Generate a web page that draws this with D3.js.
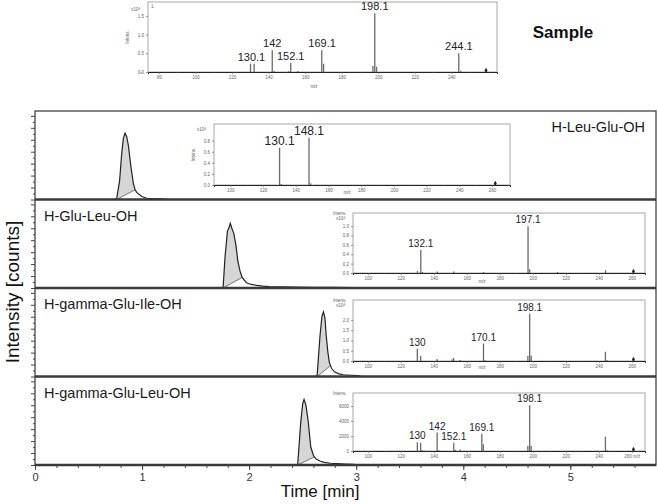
<!DOCTYPE html>
<html>
<head>
<meta charset="utf-8">
<script src="https://cdn.jsdelivr.net/npm/d3@7"></script>
<style>
  body { margin: 0; background: #fff; }
  svg { display: block; font-family: Arial, "Liberation Sans", sans-serif; }
</style>
</head>
<body>
<div id="chart"></div>
<script>
// ---------- data ----------
const timeTicks = [0, 1, 2, 3, 4, 5];
const compounds = ["H-Leu-Glu-OH", "H-Glu-Leu-OH", "H-gamma-Glu-Ile-OH", "H-gamma-Glu-Leu-OH"];

// chromatograms: [time (min), intensity (% of panel height)]
const traceLeuGlu = [[0,0],[0.74,0],[0.763,1],[0.79,21],[0.81,52],[0.825,69],[0.841,75],[0.857,71],[0.872,61],
  [0.897,36],[0.919,18],[0.935,11],[0.95,8],[0.997,3.4],[1.044,1.4],[1.1,1],[1.15,0.8],[1.2,0.6],[1.25,0],[5.8,0]];
const traceGluLeu = [[0,0],[1.74,0],[1.757,1],[1.775,35],[1.797,64],[1.812,68],[1.824,73],[1.84,67],[1.856,62],
  [1.876,49],[1.895,30],[1.915,19],[1.935,12],[1.974,6],[2.02,4],[2.07,3],[2.13,2.2],[2.19,1.6],[2.3,1.2],
  [2.45,1],[2.6,0.8],[2.8,0.6],[2.95,0.5],[3.0,0],[5.8,0]];
const traceGGluIle = [[0,0],[2.62,0],[2.635,1],[2.662,46],[2.68,68],[2.694,73],[2.708,66],[2.72,46],[2.735,28],
  [2.749,16],[2.77,9],[2.8,5],[2.84,3],[2.878,2],[2.95,1.4],[3.016,1],[3.05,0],[5.8,0]];
const traceGGluLeu = [[0,0],[2.44,0],[2.454,1],[2.481,47],[2.5,69],[2.513,74],[2.53,68],[2.551,50],[2.576,20],
  [2.6,11],[2.623,7],[2.66,4.5],[2.701,3],[2.76,2],[2.82,1.5],[2.9,1],[2.98,0.6],[3.02,0],[5.8,0]];
const traces = [traceLeuGlu, traceGluLeu, traceGGluIle, traceGGluLeu];
// integration window of each peak (min)
const peakStart = [0.763, 1.757, 2.635, 2.454];
const peakEnd = [0.935, 1.935, 2.76, 2.61];

// mass spectra: [m/z, intensity]
const sampleSpectrum = [[130.1,0.22],[132.1,0.22],[142,0.58],[143,0.03],[151,0.02],[152.1,0.25],[156,0.03],
  [169.1,0.58],[170.1,0.22],[197.1,0.16],[198.1,1.57],[199.1,0.14],[244.1,0.5],[245.1,0.03]];
const sampleLabels = [[130.6,"130.1"],[142,"142"],[152.1,"152.1"],[169.3,"169.1"],[198.1,"198.1"],[244.1,"244.1"]];
const sampleYTicks = [0, 0.5, 1.0, 1.5];
const sampleMzTicks = [80, 100, 120, 140, 160, 180, 200, 220, 240];

const leuGluSpectrum = [[130.1,0.67],[131.1,0.02],[148.1,0.85],[149.1,0.03]];
const leuGluLabels = [[130.1,"130.1"],[148.1,"148.1"]];
const leuGluYTicks = [0, 0.2, 0.4, 0.6, 0.8];

const gluLeuSpectrum = [[130.1,0.04],[132.1,0.49],[133.1,0.02],[142.1,0.03],[152.1,0.03],[170.1,0.02],
  [197.1,1.0],[198.1,0.08],[215,0.02],[244.1,0.06]];
const gluLeuLabels = [[132.1,"132.1"],[197.1,"197.1"]];
const gluLeuYTicks = [0, 0.2, 0.4, 0.6, 0.8, 1.0];

const gGluIleSpectrum = [[130,0.6],[132,0.25],[142,0.1],[151,0.08],[152,0.15],[156,0.05],[170.1,0.85],
  [171,0.04],[197,0.25],[198.1,2.3],[199,0.25],[244,0.45],[245,0.04]];
const gGluIleLabels = [[130,"130"],[170.1,"170.1"],[198.1,"198.1"]];
const gGluIleYTicks = [0, 0.5, 1.0, 1.5, 2.0];

const gGluLeuSpectrum = [[130,1150],[132,1100],[133,100],[142,2450],[143,100],[152.1,1100],[153,150],
  [156,200],[169.1,2300],[170,900],[197,700],[198.1,6100],[199,650],[244,1900],[245,100]];
const gGluLeuLabels = [[130,"130"],[142,"142"],[152.1,"152.1"],[169.1,"169.1"],[198.1,"198.1"]];
const gGluLeuYTicks = [0, 2000, 4000, 6000];

const panelMzTicks = [100, 120, 140, 160, 180, 200, 220, 240, 260];

// ---------- layout ----------
const W = 658, H = 504;
const frame = { left: 35, right: 656, top: 111, bottom: 465 };
const panelH = (frame.bottom - frame.top) / compounds.length;

const svg = d3.select("#chart").append("svg")
    .attr("width", W)
    .attr("height", H);

const x = d3.scaleLinear()
    .domain([0, 5.8])
    .range([frame.left, frame.right]);

// ---------- chromatogram panels ----------
traces.forEach(function(trace, i) {
    let top = frame.top + i * panelH;
    let bottom = top + panelH;
    let y = d3.scaleLinear().domain([0, 100]).range([bottom, top]);
    let g = svg.append("g").attr("class", "panel");

    // value of the trace at a given time
    let bis = d3.bisector(d => d[0]).left;
    let valueAt = function(t) {
        let k = bis(trace, t);
        let a = trace[k - 1], b = trace[k];
        return a[1] + (b[1] - a[1]) * (t - a[0]) / (b[0] - a[0]);
    };
    let t0 = peakStart[i], t1 = peakEnd[i], v1 = valueAt(t1);
    let base = t => v1 * (t - t0) / (t1 - t0);
    let pts = [[t0, 0]].concat(trace.filter(d => d[0] > t0 && d[0] < t1), [[t1, v1]]);

    g.append("path")
        .datum(pts)
        .attr("fill", "#d6d6d6")
        .attr("d", d3.area()
            .x(d => x(d[0]))
            .y0(d => y(base(d[0])))
            .y1(d => y(d[1])));

    g.append("line")
        .attr("x1", x(t0)).attr("y1", y(0))
        .attr("x2", x(t1)).attr("y2", y(v1))
        .attr("stroke", "#555")
        .attr("stroke-width", 0.8);

    g.append("path")
        .datum(trace)
        .attr("fill", "none")
        .attr("stroke", "#222")
        .attr("stroke-width", 1.2)
        .attr("d", d3.line().x(d => x(d[0])).y(d => y(d[1])));

    // unlabeled intensity ticks
    g.append("g")
        .attr("transform", `translate(${frame.left},0)`)
        .call(d3.axisLeft(y).tickValues(d3.range(0, 100, 13.5)).tickSize(4).tickFormat(""))
        .call(a => a.select(".domain").remove());
    g.append("g")
        .attr("transform", `translate(${frame.left},0)`)
        .call(d3.axisLeft(y).tickValues(d3.range(6.75, 100, 13.5)).tickSize(2).tickFormat(""))
        .call(a => a.select(".domain").remove());

    // compound name
    let lbl = g.append("text")
        .attr("y", top + 21)
        .attr("font-size", "14.5px")
        .attr("fill", "#1a1a1a")
        .text(compounds[i]);
    if (i === 0) lbl.attr("x", frame.right - 11).attr("text-anchor", "end");
    else lbl.attr("x", frame.left + 9);
});

svg.selectAll("g.panel .tick line").attr("stroke", "#444");

// frame and panel separators
svg.append("rect")
    .attr("x", frame.left).attr("y", frame.top)
    .attr("width", frame.right - frame.left)
    .attr("height", frame.bottom - frame.top)
    .attr("fill", "none")
    .attr("stroke", "#444")
    .attr("stroke-width", 1.3);
svg.selectAll("line.sep")
    .data(d3.range(1, compounds.length + 1))
    .join("line")
    .attr("class", "sep")
    .attr("x1", frame.left).attr("x2", frame.right)
    .attr("y1", d => frame.top + d * panelH)
    .attr("y2", d => frame.top + d * panelH)
    .attr("stroke", "#3a3a3a")
    .attr("stroke-width", 2.4);

// time axis
let xAxis = svg.append("g")
    .attr("transform", `translate(0,${frame.bottom})`)
    .call(d3.axisBottom(x).tickValues(timeTicks).tickSize(5).tickPadding(3).tickFormat(d3.format("d")));
xAxis.select(".domain").remove();
xAxis.selectAll("text").attr("font-size", "11px").attr("fill", "#333");
xAxis.selectAll("line").attr("stroke", "#444");
let xMinor = svg.append("g")
    .attr("transform", `translate(0,${frame.bottom})`)
    .call(d3.axisBottom(x).tickValues(d3.range(0.2, 5.8, 0.2)).tickSize(3).tickFormat(""));
xMinor.select(".domain").remove();
xMinor.selectAll("line").attr("stroke", "#444");

svg.append("text")
    .attr("x", 320)
    .attr("y", 497)
    .attr("text-anchor", "middle")
    .attr("font-size", "17px")
    .attr("fill", "#111")
    .text("Time [min]");
svg.append("text")
    .attr("transform", `translate(19,${(frame.top + frame.bottom) / 2 + 4}) rotate(-90)`)
    .attr("text-anchor", "middle")
    .attr("font-size", "19px")
    .attr("fill", "#111")
    .text("Intensity [counts]");

svg.append("text")
    .attr("x", 563).attr("y", 38)
    .attr("text-anchor", "middle")
    .attr("font-size", "17px")
    .attr("font-weight", "bold")
    .attr("fill", "#111")
    .text("Sample");

// ---------- mass spectra ----------
function drawSpectrum(cfg) {
    let b = cfg.box;
    let g = svg.append("g").attr("class", "spectrum");
    let sx = d3.scaleLinear().domain(cfg.mz).range([b.x, b.x + b.w]);
    let sy = d3.scaleLinear().domain([0, cfg.yMax]).range([b.y + b.h, b.y]);

    g.append("rect")
        .attr("x", b.x).attr("y", b.y)
        .attr("width", b.w).attr("height", b.h)
        .attr("fill", "#fff")
        .attr("stroke", "#a8a8a8")
        .attr("stroke-width", 1);

    // axes
    let ax = g.append("g")
        .attr("transform", `translate(0,${b.y + b.h})`)
        .call(d3.axisBottom(sx).tickValues(cfg.mzTicks).tickSize(2).tickPadding(1.5)
            .tickFormat((d, k) => (cfg.lastUnit && k === cfg.mzTicks.length - 1) ? d + " m/z" : d));
    g.append("g")
        .attr("transform", `translate(0,${b.y + b.h})`)
        .call(d3.axisBottom(sx).tickValues(d3.range(cfg.mzTicks[0] - 10, cfg.mz[1], 10)).tickSize(1.2).tickFormat(""))
        .call(a => a.select(".domain").remove());
    let ay = g.append("g")
        .attr("transform", `translate(${b.x},0)`)
        .call(d3.axisLeft(sy).tickValues(cfg.yTicks).tickSize(2).tickPadding(2).tickFormat(cfg.yFormat));
    ay.select(".domain").remove();
    g.selectAll(".tick text").attr("font-size", "4.5px").attr("fill", "#666");
    g.selectAll(".tick line").attr("stroke", "#555").attr("stroke-width", 0.6);
    ax.select(".domain").attr("stroke", "#222").attr("stroke-width", 1);

    // peaks
    g.selectAll("line.bar")
        .data(cfg.peaks)
        .join("line")
        .attr("class", "bar")
        .attr("x1", d => sx(d[0])).attr("x2", d => sx(d[0]))
        .attr("y1", sy(0)).attr("y2", d => sy(d[1]))
        .attr("stroke", "#6a6a6a")
        .attr("stroke-width", 1.3);

    // small marker at the end of the scan
    g.append("path")
        .attr("transform", `translate(${sx(cfg.marker)},${sy(0) - 1.5})`)
        .attr("d", d3.symbol(d3.symbolDiamond, 8)())
        .attr("fill", "#222");

    let topNear = m => d3.max(cfg.peaks.filter(p => Math.abs(p[0] - m) < 2.6), p => p[1]);
    g.selectAll("text.lbl")
        .data(cfg.labels)
        .join("text")
        .attr("class", "lbl")
        .attr("x", d => sx(d[0]))
        .attr("y", d => sy(topNear(d[0])) - 3)
        .attr("text-anchor", "middle")
        .attr("font-size", cfg.fs)
        .attr("fill", "#222")
        .text(d => d[1]);

    // axis titles
    let tiny = { "font-size": "4.5px", fill: "#666" };
    let mzText = g.append("text")
        .attr("x", cfg.mzLabel[0]).attr("y", cfg.mzLabel[1])
        .attr("text-anchor", "middle").text(cfg.lastUnit ? "" : "m/z");
    let intText = g.append("text").text("Intens.");
    if (cfg.rotIntens) {
        intText.attr("transform", `translate(${b.x - 19},${b.y + b.h / 2}) rotate(-90)`)
            .attr("text-anchor", "middle");
    } else {
        intText.attr("x", b.x - 20).attr("y", b.y + 2);
    }
    if (cfg.exp) {
        let e = g.append("text").attr("x", b.x - 17).attr("y", cfg.exp);
        e.append("tspan").text("x10");
        e.append("tspan").attr("dy", -1.5).attr("font-size", "3.5px").text("4");
    }
    [mzText, intText].forEach(t => Object.entries(tiny).forEach(([k, v]) => t.attr(k, v)));
    g.selectAll("text:not(.lbl)").filter(function() { return !this.closest(".tick"); })
        .attr("fill", "#666").attr("font-size", function() { return d3.select(this).attr("font-size") || "4.5px"; });
    return g;
}

let sampleG = drawSpectrum({
    box: { x: 148, y: 2, w: 349, h: 70 }, mz: [74, 265], yMax: 1.87,
    peaks: sampleSpectrum, labels: sampleLabels, yTicks: sampleYTicks, mzTicks: sampleMzTicks,
    yFormat: d3.format(".1f"), fs: "11px", marker: 259, mzLabel: [314, 88], rotIntens: true, exp: 11
});
sampleG.append("text").attr("x", 151).attr("y", 8).attr("font-size", "4.5px").attr("fill", "#666").text("1.");

drawSpectrum({
    box: { x: 214, y: 124, w: 296, h: 61 }, mz: [90, 271], yMax: 1.1,
    peaks: leuGluSpectrum, labels: leuGluLabels, yTicks: leuGluYTicks, mzTicks: panelMzTicks,
    yFormat: d3.format(".1f"), fs: "12px", marker: 262, mzLabel: [347, 194], rotIntens: true, exp: 131
});
drawSpectrum({
    box: { x: 353, y: 213, w: 292, h: 60 }, mz: [91, 268], yMax: 1.28,
    peaks: gluLeuSpectrum, labels: gluLeuLabels, yTicks: gluLeuYTicks, mzTicks: panelMzTicks,
    yFormat: d3.format(".1f"), fs: "10px", marker: 261, mzLabel: [482, 283], rotIntens: false, exp: 220
});
drawSpectrum({
    box: { x: 353, y: 300, w: 292, h: 61 }, mz: [91, 268], yMax: 2.97,
    peaks: gGluIleSpectrum, labels: gGluIleLabels, yTicks: gGluIleYTicks, mzTicks: panelMzTicks,
    yFormat: d3.format(".1f"), fs: "10px", marker: 261, mzLabel: [482, 369], rotIntens: false, exp: 307
});
drawSpectrum({
    box: { x: 353, y: 393, w: 292, h: 58 }, mz: [91, 268], yMax: 7730,
    peaks: gGluLeuSpectrum, labels: gGluLeuLabels, yTicks: gGluLeuYTicks, mzTicks: panelMzTicks,
    yFormat: d3.format("d"), fs: "10px", marker: 261, mzLabel: [482, 460], rotIntens: false, lastUnit: true
});
</script>
</body>
</html>
